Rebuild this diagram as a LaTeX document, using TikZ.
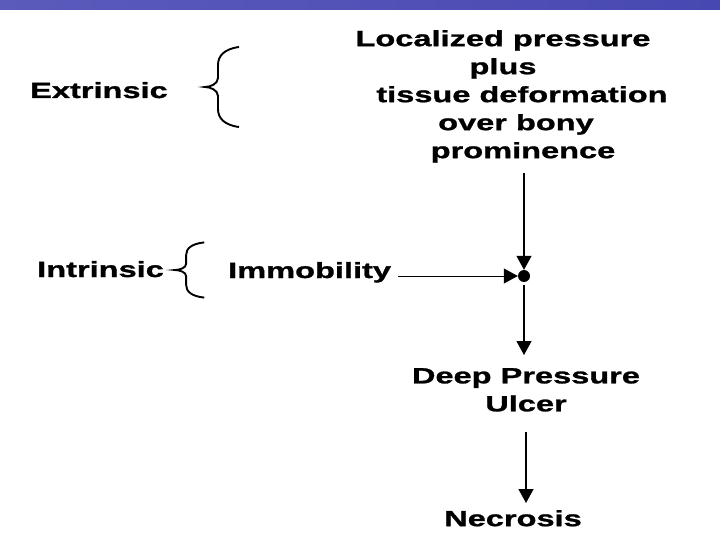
\documentclass[tikz,border=0pt]{standalone}
\usepackage{fontspec}
\setmainfont{Liberation Sans}[FakeStretch=1.48, BoldFeatures={FakeStretch=1.48, FakeBold=1.2}]
\usetikzlibrary{arrows.meta,calc}
\definecolor{barlight}{RGB}{135,135,210}
\definecolor{bardark}{RGB}{72,72,178}

\begin{document}
\begin{tikzpicture}[x=1pt, y=-1pt,
    every node/.style={font=\bfseries\fontsize{22}{28}\selectfont, inner sep=0pt},
    flow/.style={line width=1.3pt, -{Triangle[length=14pt, width=15pt]}},
    curly/.pic={\draw[line width=1.9pt] (34,-40) .. controls (19,-38) and (13,-31) .. (13,-22) -- (13,-9)
        .. controls (13,-3) and (5,0) .. (0,0) .. controls (5,0) and (13,3) .. (13,9) -- (13,22)
        .. controls (13,31) and (19,38) .. (34,40);}]
    \useasboundingbox (0,0) rectangle (720,540);
    \shade[left color=bardark!70!barlight, middle color=barlight, right color=bardark] (0,0) rectangle (720,10);

    % causes
    \node[anchor=north, align=center] (cause) at (503,30)
        {Localized pressure\\plus\\\hspace*{38pt}tissue deformation\\\hspace*{26pt}over bony\\\hspace*{40pt}prominence};
    \node[anchor=base west] (extr) at (30,98) {Extrinsic};
    \pic at (205,87) {curly};
    \node[anchor=base west] (intr) at (37,277) {Intrinsic};
    \pic[xscale=0.86, yscale=0.69] at (175,270) {curly};
    \node[anchor=base west] (immob) at (228,278) {Immobility};

    % result chain
    \node[circle, fill, minimum size=12pt] (dot) at (524,276) {};
    \node[anchor=north, align=center] (ulcer) at (526,368) {Deep Pressure\\Ulcer};
    \node[anchor=north] (necro) at (513,510) {Necrosis};

    \draw[flow, shorten <=10pt] (cause.south -| dot) -- (dot.north);
    \draw[flow, line width=1pt, shorten <=7pt] (immob.east |- dot) -- (dot.west);
    \draw[flow, shorten <=3pt, shorten >=13pt] (dot.south) -- (dot |- ulcer.north);
    \draw[flow, shorten <=20pt, shorten >=7pt] (ulcer.south) -- (ulcer.south |- necro.north);
\end{tikzpicture}
\end{document}
